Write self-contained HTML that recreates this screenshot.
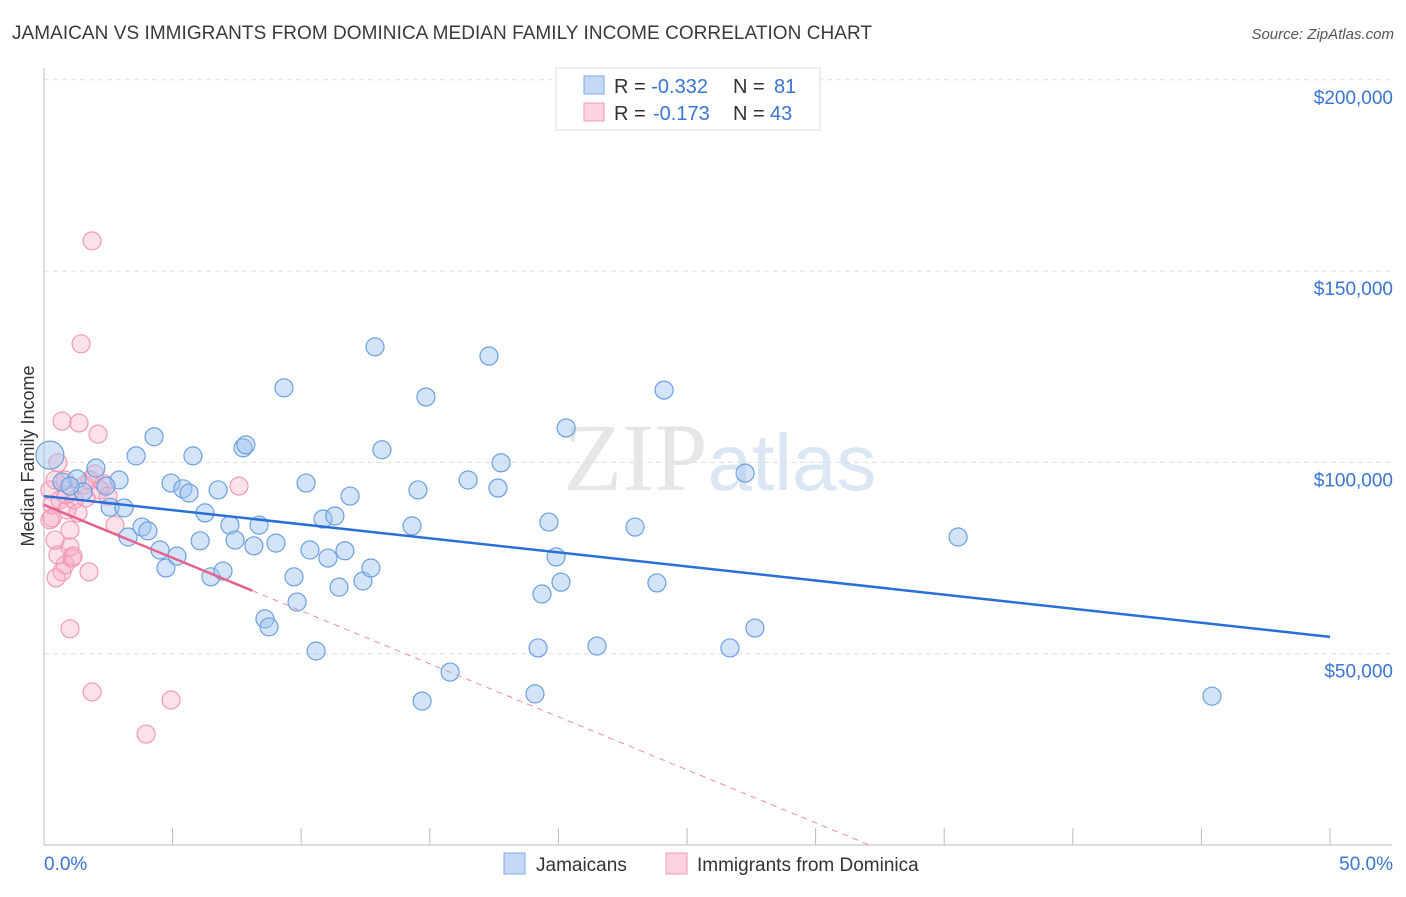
<!DOCTYPE html>
<html><head><meta charset="utf-8"><style>
body{margin:0;background:#fff;font-family:"Liberation Sans",sans-serif}
svg text{font-family:"Liberation Sans",sans-serif}
</style></head><body>
<svg id="c" width="1406" height="892">
<text x="12" y="39" font-size="19" fill="#3a3a3a" textLength="860">JAMAICAN VS IMMIGRANTS FROM DOMINICA MEDIAN FAMILY INCOME CORRELATION CHART</text>
<text x="1394" y="39" font-size="15" fill="#555" font-style="italic" text-anchor="end">Source: ZipAtlas.com</text>
<text x="720" y="490" font-size="96" fill="#e6e6e6" text-anchor="middle" font-family="Liberation Serif"><tspan font-family="Liberation Serif">ZIP</tspan><tspan fill="#dbe6f5" font-family="Liberation Sans" font-size="80">atlas</tspan></text>
<text transform="translate(34,456) rotate(-90)" font-size="18" fill="#333" text-anchor="middle">Median Family Income</text>
<g id="grid"></g><g id="pts"></g><g id="lines"></g>
<g>
<rect x="556" y="68" width="264" height="62" fill="#fff" stroke="#ddd"/>
<rect x="584" y="76" width="20" height="18" fill="#c4d9f5" stroke="#7fa9e6"/>
<rect x="584" y="103" width="20" height="18" fill="#fcd2de" stroke="#f19ab5"/>
<text x="614" y="93" font-size="20" fill="#333">R = <tspan fill="#3a74d4">-0.332</tspan><tspan x="733">N = </tspan><tspan fill="#3a74d4" x="774">81</tspan></text>
<text x="614" y="120" font-size="20" fill="#333">R = <tspan fill="#3a74d4" x="653">-0.173</tspan><tspan x="733">N = </tspan><tspan fill="#3a74d4" x="770">43</tspan></text>
</g>
<g>
<rect x="504" y="853" width="21" height="21" fill="#c4d9f5" stroke="#7fa9e6"/>
<text x="536" y="871" font-size="19" fill="#333">Jamaicans</text>
<rect x="666" y="853" width="21" height="21" fill="#fcd2de" stroke="#f19ab5"/>
<text x="697" y="871" font-size="19" fill="#333">Immigrants from Dominica</text>
</g>
</svg>
<script>
const yTicks=[50000,100000,150000,200000];
const yTickLabels=["$50,000","$100,000","$150,000","$200,000"];
const xTicks=[0,5,10,15,20,25,30,35,40,45,50];
const blueX=[0.23,4.28,3.58,2.02,2.92,1.28,1.52,2.41,2.57,3.11,3.27,3.81,4.04,4.51,4.74,5.17,5.79,4.94,5.40,5.64,6.07,6.26,6.49,6.77,6.96,7.23,7.43,7.74,7.85,8.16,8.36,9.02,9.33,8.59,8.75,9.72,9.84,10.19,10.34,10.58,10.85,11.31,11.04,11.47,11.70,11.90,12.40,12.71,12.87,13.14,14.31,14.54,14.85,14.70,15.79,16.49,17.30,17.65,17.77,19.09,19.21,19.36,19.63,19.91,20.10,20.30,21.50,22.98,23.83,24.11,26.67,27.26,27.64,35.54,45.41,0.70,1.01];
const blueY=[101.9,106.7,101.7,98.5,95.4,95.7,92.3,93.8,88.3,88.1,80.5,83.1,82.1,77.1,72.4,75.5,101.7,94.6,93.1,92.0,79.5,86.8,70.1,92.8,71.6,83.6,79.7,103.8,104.6,78.2,83.6,78.9,119.5,59.1,57.0,70.1,63.5,94.6,77.1,50.7,85.2,86.0,75.0,67.4,76.9,91.2,69.0,72.4,130.2,103.3,83.4,92.8,117.1,37.6,45.2,95.4,127.8,93.3,99.9,39.5,51.5,65.6,84.4,75.3,68.7,109.0,52.0,83.1,68.5,118.9,51.5,97.2,56.7,80.5,38.9,94.9,93.8];
const pinkX=[1.87,1.44,0.70,1.36,2.10,7.58,1.87,4.94,3.97,1.01,1.75,0.70,0.82,1.09,1.01,0.54,0.43,0.23,0.31,0.62,0.89,1.17,1.59,2.18,2.76,0.82,1.79,0.43,0.54,0.23,0.86,1.63,2.33,1.01,0.47,1.13,2.49,1.32,0.31,1.98];
const pinkY=[157.9,131.0,110.8,110.3,107.4,93.8,40.0,37.9,29.0,56.5,71.4,71.4,73.2,75.0,77.9,75.8,79.7,85.0,88.9,90.2,87.6,90.2,94.1,92.8,83.6,95.4,95.4,95.4,99.9,92.8,91.5,90.7,94.4,82.3,69.8,75.5,91.2,86.8,85.5,97.0];
const blueTrend=[91.2,54.4]; // at x=0 and x=50
const pinkTrend=[88.9,-2.77]; // intercept, slope per %
const NS='http://www.w3.org/2000/svg';
const X=v=>44+v*25.72, Y=v=>845-v/50000*191.3;
function mk(p,t,a){const e=document.createElementNS(NS,t);for(const k in a)e.setAttribute(k,a[k]);p.appendChild(e);return e;}
const g=document.getElementById('grid');
const ax=mk(g,'line',{x1:44,y1:68,x2:44,y2:845,stroke:'#bbb'});


const bx=mk(g,'line',{x1:44,y1:845,x2:1392,y2:845,stroke:'#bbb'});


yTicks.forEach((v,i)=>{
 const l=mk(g,'line',{x1:44,y1:Y(v),x2:1392,y2:Y(v),stroke:'#ddd','stroke-dasharray':'5,4'});
 
 
 const t=mk(g,'text',{x:1393,y:Y(v)+24,'font-size':19,fill:'#3a74d4','text-anchor':'end'});t.textContent=yTickLabels[i];
 
 
});
xTicks.forEach(v=>{const t=mk(g,'line',{x1:X(v),y1:828,x2:X(v),y2:845,stroke:'#bbb'});
 
 });
const x0=mk(g,'text',{x:44,y:870,'font-size':19,fill:'#3a74d4'});x0.textContent='0.0%';


const x1=mk(g,'text',{x:1393,y:870,'font-size':19,fill:'#3a74d4','text-anchor':'end'});x1.textContent='50.0%';


const P=document.getElementById('pts');
pinkX.forEach((v,i)=>{const c=mk(P,'circle',{cx:X(v),cy:Y(pinkY[i]*1000),r:9,fill:'rgba(248,170,195,0.35)',stroke:'#f19ab5','stroke-width':1.2});
 
 });
blueX.forEach((v,i)=>{const c=mk(P,'circle',{cx:X(v),cy:Y(blueY[i]*1000),r:i==0?14:9,fill:'rgba(160,195,240,0.45)',stroke:'#6c9fe0','stroke-width':1.2});
 
 });
const L=document.getElementById('lines');
const b=mk(L,'line',{x1:X(0),y1:Y(blueTrend[0]*1000),x2:X(50),y2:Y(blueTrend[1]*1000),stroke:'#2a6fd6','stroke-width':2.5});


const pe=8.1, pz=-pinkTrend[0]/pinkTrend[1];
const p1=mk(L,'line',{x1:X(0),y1:Y(pinkTrend[0]*1000),x2:X(pe),y2:Y((pinkTrend[0]+pinkTrend[1]*pe)*1000),stroke:'#e4628d','stroke-width':2.5});


const p2=mk(L,'line',{x1:X(pe),y1:Y((pinkTrend[0]+pinkTrend[1]*pe)*1000),x2:X(pz),y2:Y(0),stroke:'#eb8fae','stroke-width':1,'stroke-dasharray':'6,5'});


</script>
</body></html>
